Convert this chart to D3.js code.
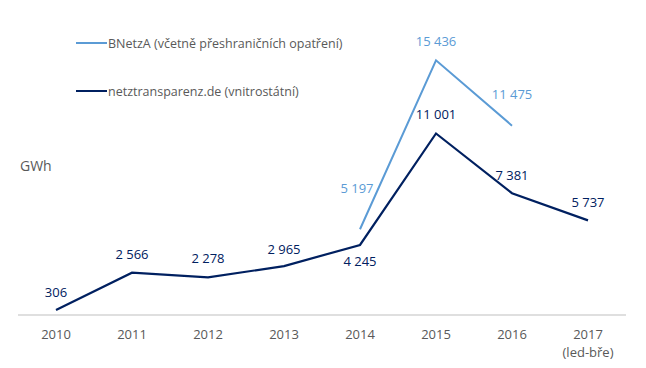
<!DOCTYPE html>
<html>
<head>
<meta charset="utf-8">
<script src="https://cdn.jsdelivr.net/npm/d3@7"></script>
<style>
  body { margin: 0; background: #fff; }
  text { font-family: "Open Sans", "Noto Sans", sans-serif; }
</style>
</head>
<body>
<div id="chart"></div>
<script>
var years = ["2010", "2011", "2012", "2013", "2014", "2015", "2016", "2017"];
var yearNotes = ["", "", "", "", "", "", "", "(led-bře)"];
var bnetza = [null, null, null, null, 5197, 15436, 11475, null];
var netz = [306, 2566, 2278, 2965, 4245, 11001, 7381, 5737];
var seriesNames = ["BNetzA (včetně přeshraničních opatření)", "netztransparenz.de (vnitrostátní)"];

var width = 646, height = 368;
var light = "#5b9bd5", dark = "#002060", gray = "#595959";

var svg = d3.select("#chart").append("svg")
  .attr("width", width)
  .attr("height", height);

var x = d3.scaleBand().domain(years).range([18, 626]);
var y = d3.scaleLinear().domain([0, 18000]).range([315, 18]);
var cx = function(d, i) { return x(years[i]) + x.bandwidth() / 2; };

// axis line
svg.append("line")
  .attr("x1", 18).attr("x2", 626)
  .attr("y1", y(0)).attr("y2", y(0))
  .attr("stroke", "#bfbfbf").attr("stroke-width", 1);

// category labels
var ticks = svg.append("g").attr("font-size", 13).attr("fill", gray).attr("text-anchor", "middle");
ticks.selectAll(".yr").data(years).enter().append("text")
  .attr("x", function(d) { return x(d) + x.bandwidth() / 2; })
  .attr("y", 339)
  .text(function(d) { return d; });
ticks.selectAll(".note").data(yearNotes).enter().append("text")
  .attr("x", function(d, i) { return x(years[i]) + x.bandwidth() / 2; })
  .attr("y", 357)
  .text(function(d) { return d; });

svg.append("text")
  .attr("x", 20).attr("y", 171)
  .attr("font-size", 14).attr("fill", gray)
  .text("GWh");

var line = d3.line()
  .defined(function(d) { return d != null; })
  .x(cx)
  .y(function(d) { return y(d); });

svg.append("path").datum(bnetza)
  .attr("d", line).attr("fill", "none")
  .attr("stroke", light).attr("stroke-width", 2);

svg.append("path").datum(netz)
  .attr("d", line).attr("fill", "none")
  .attr("stroke", dark).attr("stroke-width", 2.2);

var fmt = function(v) { return d3.format(",")(v).replace(/,/g, " "); };

// data labels (offsets from each point)
var netzOff = [-14, -15, -15, -13, 20, -15, -14, -14];
var bnetzaOff = [0, 0, 0, 0, -37, -15, -28, 0];
var bnetzaDx = [0, 0, 0, 0, -3, 0, 0, 0];

svg.append("g").selectAll("text").data(netz).enter().append("text")
  .attr("x", cx)
  .attr("y", function(d, i) { return y(d) + netzOff[i] + 1; })
  .attr("text-anchor", "middle").attr("font-size", 13).attr("fill", dark)
  .text(fmt);

svg.append("g").selectAll("text").data(bnetza).enter()
  .filter(function(d) { return d != null; })
  .append("text")
  .attr("x", function(d) { var i = bnetza.indexOf(d); return cx(d, i) + bnetzaDx[i]; })
  .attr("y", function(d) { var i = bnetza.indexOf(d); return y(d) + bnetzaOff[i] + 1; })
  .attr("text-anchor", "middle").attr("font-size", 13).attr("fill", light)
  .text(fmt);

// legend
var legend = svg.append("g");
[light, dark].forEach(function(c, i) {
  var ly = 43 + i * 48;
  legend.append("line")
    .attr("x1", 76).attr("x2", 107).attr("y1", ly).attr("y2", ly)
    .attr("stroke", c).attr("stroke-width", 2);
  legend.append("text")
    .attr("x", 108).attr("y", ly + 4.5)
    .attr("font-size", 12.5).attr("fill", gray)
    .text(seriesNames[i]);
});
</script>
</body>
</html>
